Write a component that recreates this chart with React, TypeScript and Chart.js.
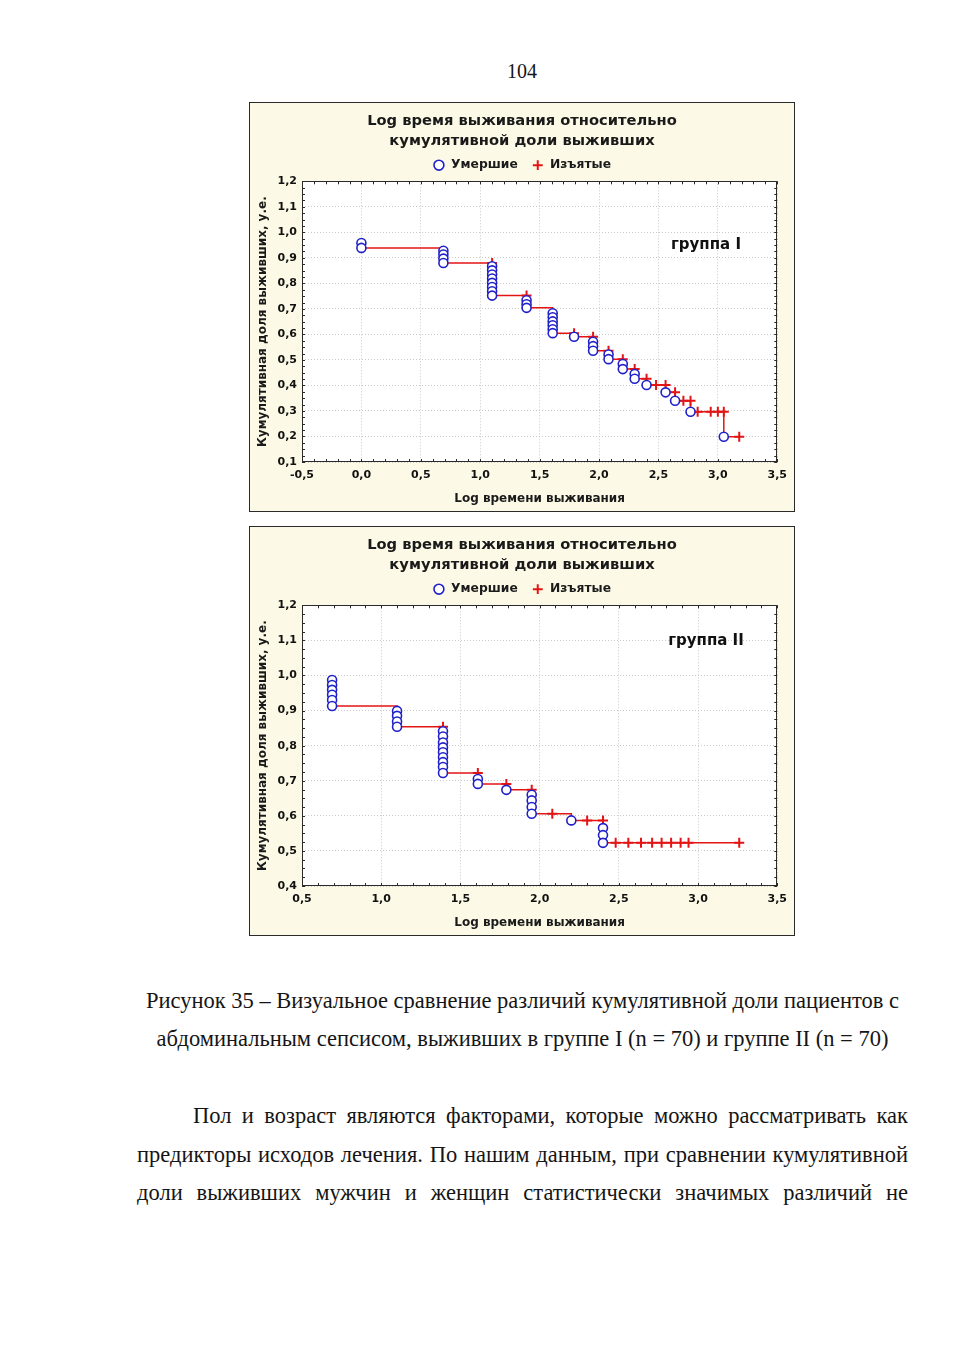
import React, { useEffect, useRef } from "react";
import { Chart, registerables } from "chart.js";

Chart.register(...registerables);

// ---------- Group I data (x = log survival time, y = cumulative proportion surviving) ----------
const g1DeathX = [0, 0, 0.69, 0.69, 0.69, 0.69, 1.1, 1.1, 1.1, 1.1, 1.1, 1.1, 1.1, 1.1, 1.39, 1.39, 1.39, 1.61, 1.61, 1.61, 1.61, 1.61, 1.61, 1.79, 1.95, 1.95, 1.95, 2.08, 2.08, 2.2, 2.2, 2.3, 2.3, 2.4, 2.56, 2.64, 2.77, 3.05];
const g1DeathY = [0.958, 0.939, 0.928, 0.913, 0.897, 0.88, 0.867, 0.851, 0.835, 0.819, 0.802, 0.786, 0.769, 0.752, 0.734, 0.718, 0.704, 0.683, 0.667, 0.651, 0.636, 0.62, 0.605, 0.591, 0.571, 0.554, 0.536, 0.521, 0.503, 0.484, 0.464, 0.445, 0.426, 0.402, 0.373, 0.34, 0.297, 0.199];
const g1CensX = [1.1, 1.39, 1.79, 1.95, 2.08, 2.2, 2.3, 2.4, 2.48, 2.56, 2.64, 2.71, 2.77, 2.83, 2.94, 3.0, 3.05, 3.18];
const g1CensY = [0.88, 0.752, 0.605, 0.591, 0.536, 0.503, 0.464, 0.426, 0.402, 0.402, 0.373, 0.34, 0.34, 0.297, 0.297, 0.297, 0.297, 0.199];
const g1StepX = [0, 0.69, 1.1, 1.39, 1.61, 1.79, 1.95, 2.08, 2.2, 2.3, 2.4, 2.56, 2.64, 2.77, 3.05, 3.18];
const g1StepY = [0.939, 0.88, 0.752, 0.704, 0.605, 0.591, 0.536, 0.503, 0.464, 0.426, 0.402, 0.373, 0.34, 0.297, 0.199, 0.199];

// ---------- Group II data ----------
const g2DeathX = [0.69, 0.69, 0.69, 0.69, 0.69, 0.69, 1.1, 1.1, 1.1, 1.1, 1.39, 1.39, 1.39, 1.39, 1.39, 1.39, 1.39, 1.39, 1.39, 1.61, 1.61, 1.79, 1.95, 1.95, 1.95, 1.95, 2.2, 2.4, 2.4, 2.4];
const g2DeathY = [0.987, 0.973, 0.959, 0.945, 0.93, 0.913, 0.899, 0.885, 0.869, 0.854, 0.841, 0.826, 0.809, 0.795, 0.781, 0.767, 0.753, 0.739, 0.722, 0.705, 0.691, 0.674, 0.66, 0.644, 0.625, 0.606, 0.587, 0.565, 0.545, 0.523];
const g2CensX = [1.39, 1.61, 1.79, 1.95, 2.08, 2.3, 2.4, 2.48, 2.56, 2.64, 2.71, 2.77, 2.83, 2.89, 2.94, 3.26];
const g2CensY = [0.854, 0.722, 0.691, 0.674, 0.606, 0.587, 0.587, 0.523, 0.523, 0.523, 0.523, 0.523, 0.523, 0.523, 0.523, 0.523];
const g2StepX = [0.69, 1.1, 1.39, 1.61, 1.79, 1.95, 2.2, 2.4, 3.27];
const g2StepY = [0.913, 0.854, 0.722, 0.691, 0.674, 0.606, 0.587, 0.523, 0.523];

// ---------- Text ----------
const chartTitle = ["Log время выживания относительно", "кумулятивной доли выживших"];
const legendDead = "Умершие";
const legendCensored = "Изъятые";
const xAxisTitle = "Log времени выживания";
const yAxisTitle = "Кумулятивная доля выживших, у.е.";
const pageNumber = "104";
const captionLines = [
  "Рисунок 35 – Визуальное сравнение различий кумулятивной доли пациентов с",
  "абдоминальным сепсисом, выживших в группе I (n = 70) и группе II (n = 70)",
];
const bodyLines = [
  "Пол и возраст являются факторами, которые можно рассматривать как",
  "предикторы исходов лечения. По нашим данным, при сравнении кумулятивной",
  "доли выживших мужчин и женщин статистически значимых различий не",
];

const CHART_FONT = "'DejaVu Sans', Verdana, sans-serif";
const BLUE = "#2020c8";
const RED = "#e31414";

const toXY = (xs: number[], ys: number[]) => xs.map((x, i) => ({ x, y: ys[i] }));
const fmt = (v: number | string) => Number(v).toFixed(1).replace(".", ",");

const framePlugin = {
  id: "kmFrame",
  beforeDraw(chart: any) {
    const { ctx, chartArea: a } = chart;
    ctx.save();
    ctx.fillStyle = "#ffffff";
    ctx.fillRect(a.left, a.top, a.width, a.height);
    ctx.restore();
  },
  beforeDatasetsDraw(chart: any, _args: any, opts: any) {
    const { ctx, chartArea: a } = chart;
    const xs = chart.scales.x;
    const ys = chart.scales.y;
    ctx.save();
    ctx.strokeStyle = "#2a2a2a";
    ctx.lineWidth = 1;
    ctx.beginPath();
    const nx = Math.round((xs.max - xs.min) / opts.xMinor);
    for (let i = 0; i <= nx; i++) {
      const px = Math.round(xs.getPixelForValue(xs.min + i * opts.xMinor)) + 0.5;
      ctx.moveTo(px, a.top);
      ctx.lineTo(px, a.top + 3);
      ctx.moveTo(px, a.bottom);
      ctx.lineTo(px, a.bottom - 3);
    }
    const ny = Math.round((ys.max - ys.min) / opts.yMinor);
    for (let i = 0; i <= ny; i++) {
      const py = Math.round(ys.getPixelForValue(ys.min + i * opts.yMinor)) + 0.5;
      ctx.moveTo(a.left, py);
      ctx.lineTo(a.left + 3, py);
      ctx.moveTo(a.right, py);
      ctx.lineTo(a.right - 3, py);
    }
    ctx.stroke();
    ctx.strokeRect(Math.round(a.left) + 0.5, Math.round(a.top) + 0.5, Math.round(a.width) - 1, Math.round(a.height) - 1);
    ctx.restore();
  },
  afterDatasetsDraw(chart: any, _args: any, opts: any) {
    const { ctx } = chart;
    const xs = chart.scales.x;
    const ys = chart.scales.y;
    ctx.save();
    ctx.fillStyle = "#111";
    ctx.font = `bold 15px ${CHART_FONT}`;
    ctx.textAlign = "center";
    ctx.textBaseline = "middle";
    ctx.fillText(opts.label, xs.getPixelForValue(opts.labelX), ys.getPixelForValue(opts.labelY));
    ctx.restore();
  },
};

type KMProps = {
  deathX: number[];
  deathY: number[];
  censX: number[];
  censY: number[];
  stepX: number[];
  stepY: number[];
  xMin: number;
  xMax: number;
  yMin: number;
  yMax: number;
  label: string;
  labelX: number;
  labelY: number;
};

function KMChart(p: KMProps) {
  const ref = useRef<HTMLCanvasElement>(null);
  useEffect(() => {
    const tickFont = { family: CHART_FONT, size: 11, weight: "bold" as const };
    const titleFont = { family: CHART_FONT, size: 12, weight: "bold" as const };
    const chart = new Chart(ref.current as HTMLCanvasElement, {
      type: "scatter",
      data: {
        datasets: [
          {
            label: legendDead,
            data: toXY(p.deathX, p.deathY),
            pointStyle: "circle",
            pointRadius: 4.5,
            pointBorderWidth: 1.6,
            pointBorderColor: BLUE,
            pointBackgroundColor: "#ffffff",
            borderColor: BLUE,
            backgroundColor: "#ffffff",
            order: 0,
          } as any,
          {
            label: legendCensored,
            data: toXY(p.censX, p.censY),
            pointStyle: "cross",
            pointRadius: 5,
            pointBorderWidth: 2,
            pointBorderColor: RED,
            pointBackgroundColor: RED,
            borderColor: RED,
            backgroundColor: RED,
            order: 1,
          } as any,
          {
            type: "line",
            label: "step",
            data: toXY(p.stepX, p.stepY),
            stepped: "before",
            borderColor: RED,
            borderWidth: 1.5,
            pointRadius: 0,
            fill: false,
            order: 2,
          } as any,
        ],
      },
      options: {
        animation: false,
        responsive: false,
        devicePixelRatio: 1,
        layout: { padding: { top: 0, right: 0, bottom: 0, left: 0 } },
        plugins: {
          title: {
            display: true,
            text: chartTitle,
            color: "#1a1a1a",
            font: { family: CHART_FONT, size: 14.7, weight: "bold", lineHeight: 20 / 14.7 },
            padding: { top: 8, bottom: -6 },
          },
          legend: {
            display: true,
            labels: {
              usePointStyle: true,
              boxWidth: 12,
              boxHeight: 7,
              padding: 14,
              color: "#1a1a1a",
              font: { family: CHART_FONT, size: 12.3, weight: "bold" },
              filter: (item: any) => item.datasetIndex < 2,
            },
          },
          tooltip: { enabled: false },
          kmFrame: {
            xMinor: 0.1,
            yMinor: 0.025,
            label: p.label,
            labelX: p.labelX,
            labelY: p.labelY,
          },
        } as any,
        scales: {
          x: {
            type: "linear",
            min: p.xMin,
            max: p.xMax,
            afterFit: (s: any) => {
              s.height = 49;
            },
            ticks: {
              stepSize: 0.5,
              autoSkip: false,
              maxRotation: 0,
              padding: 7,
              color: "#111",
              font: tickFont,
              callback: (v: any) => fmt(v),
            },
            grid: { color: "#c9c9c9", lineWidth: 1, drawTicks: false },
            border: { display: false, dash: [1, 2] },
            title: {
              display: true,
              text: xAxisTitle,
              color: "#1a1a1a",
              font: titleFont,
              padding: { top: 0, bottom: 5 },
            },
          },
          y: {
            type: "linear",
            min: p.yMin,
            max: p.yMax,
            afterFit: (s: any) => {
              s.width = 52;
            },
            ticks: {
              stepSize: 0.1,
              autoSkip: false,
              padding: 5,
              color: "#111",
              font: tickFont,
              callback: (v: any) => fmt(v),
            },
            grid: { color: "#c9c9c9", lineWidth: 1, drawTicks: false },
            border: { display: false, dash: [1, 2] },
            title: {
              display: true,
              text: yAxisTitle,
              color: "#1a1a1a",
              font: titleFont,
              padding: { top: 6, bottom: 0 },
            },
          },
          // empty right-hand margin so the title and legend stay centred on the whole frame
          yRight: {
            type: "linear",
            position: "right",
            afterFit: (s: any) => {
              s.width = 15;
            },
            ticks: { display: false },
            grid: { display: false, drawTicks: false },
            border: { display: false },
            title: { display: false },
          },
        },
      } as any,
      plugins: [framePlugin as any],
    });
    return () => chart.destroy();
  }, []);
  return <canvas ref={ref} width={544} height={408} style={{ display: "block", width: 544, height: 408 }} />;
}

const frameStyle = (top: number): React.CSSProperties => ({
  position: "absolute",
  left: 249,
  top,
  width: 544,
  height: 408,
  border: "1px solid #2a2a2a",
  background: "#fcfae6",
});

const serif = "'Liberation Serif', 'Times New Roman', serif";

export default function App() {
  const lineDiv = (top: number, left: number, width: number, align: "center" | "justify"): React.CSSProperties => ({
    position: "absolute",
    top,
    left,
    width,
    fontSize: 22.5,
    lineHeight: "22px",
    whiteSpace: "nowrap",
    textAlign: align,
    textAlignLast: align as any,
  });
  return (
    <div
      style={{
        position: "absolute",
        left: 0,
        top: 0,
        width: 954,
        height: 1350,
        background: "#ffffff",
        fontFamily: serif,
        color: "#151515",
        overflow: "hidden",
      }}
    >
      <div style={{ position: "absolute", left: 472, top: 61, width: 100, textAlign: "center", fontSize: 20, lineHeight: "20px" }}>
        {pageNumber}
      </div>
      <div style={frameStyle(102)}>
        <KMChart
          deathX={g1DeathX}
          deathY={g1DeathY}
          censX={g1CensX}
          censY={g1CensY}
          stepX={g1StepX}
          stepY={g1StepY}
          xMin={-0.5}
          xMax={3.5}
          yMin={0.1}
          yMax={1.2}
          label="группа I"
          labelX={2.9}
          labelY={0.95}
        />
      </div>
      <div style={frameStyle(526)}>
        <KMChart
          deathX={g2DeathX}
          deathY={g2DeathY}
          censX={g2CensX}
          censY={g2CensY}
          stepX={g2StepX}
          stepY={g2StepY}
          xMin={0.5}
          xMax={3.5}
          yMin={0.4}
          yMax={1.2}
          label="группа II"
          labelX={3.05}
          labelY={1.098}
        />
      </div>
      <div style={lineDiv(990, 137, 771, "center")}>{captionLines[0]}</div>
      <div style={lineDiv(1028, 137, 771, "center")}>{captionLines[1]}</div>
      <div style={lineDiv(1105, 193, 715, "justify")}>{bodyLines[0]}</div>
      <div style={lineDiv(1144, 137, 771, "justify")}>{bodyLines[1]}</div>
      <div style={lineDiv(1182, 137, 771, "justify")}>{bodyLines[2]}</div>
    </div>
  );
}
